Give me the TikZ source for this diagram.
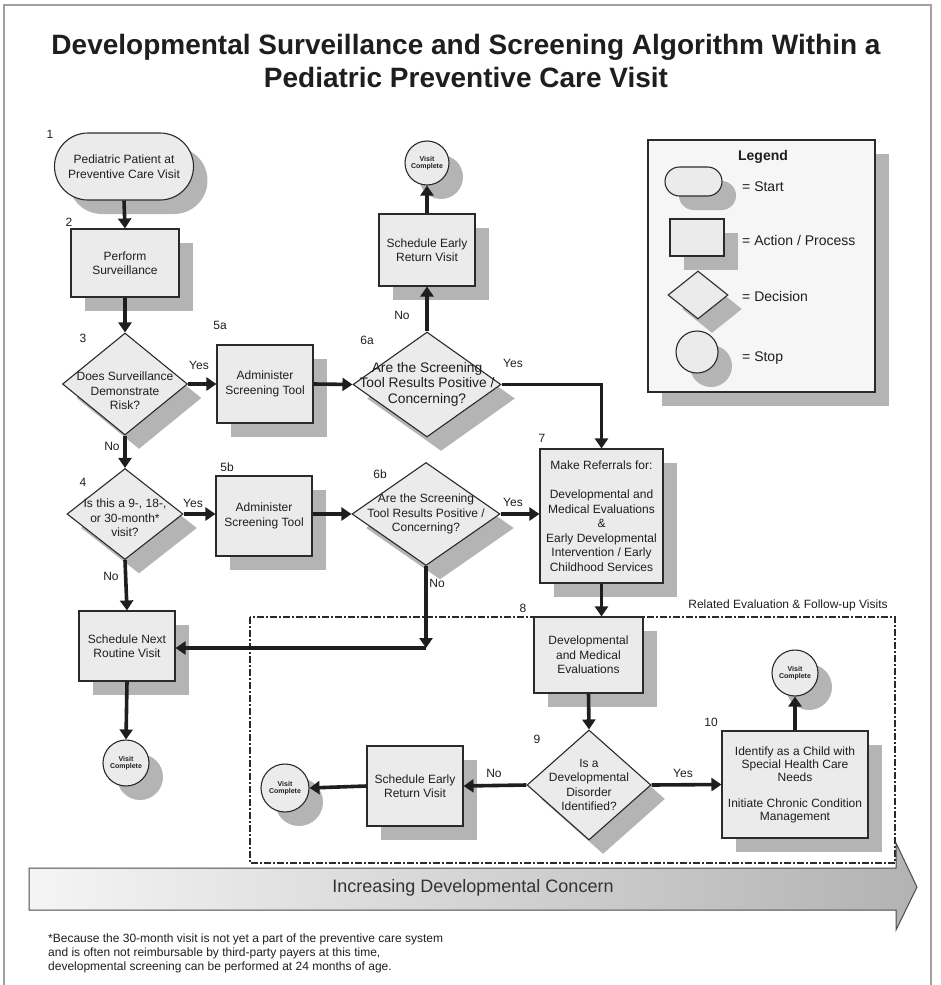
\documentclass[tikz,border=0pt]{standalone}
\usepackage{fontspec}
\setmainfont{Liberation Sans}
\usetikzlibrary{shapes.geometric,shapes.misc,shadows,arrows.meta}
\definecolor{nodefill}{HTML}{EBEBEB}
\definecolor{shadowgray}{HTML}{B4B4B4}
\definecolor{framegray}{HTML}{A0A0A0}
\definecolor{legendfill}{HTML}{F6F6F6}
\definecolor{edgegray}{HTML}{2A2A2A}
\definecolor{inkgray}{HTML}{1E1E1E}

\begin{document}
\begin{tikzpicture}[x=1pt,y=-1pt,
  shapebase/.style={draw=edgegray, line width=1.1pt, fill=nodefill,
    drop shadow={shadow xshift=14pt, shadow yshift=-14pt, fill=shadowgray, opacity=1}},
  txt/.style={font=\fontsize{12}{14.5}\selectfont, align=center, inner sep=0pt, text=inkgray},
  startbox/.style={shapebase, rounded rectangle, inner sep=2pt, align=center,
    font=\fontsize{12}{14.5}\selectfont, text=inkgray},
  actbox/.style={shapebase, rectangle, inner sep=2pt, align=center,
    font=\fontsize{12}{14.5}\selectfont, text=inkgray},
  decbox/.style={shapebase, diamond, inner sep=0pt},
  stopbox/.style={shapebase, circle, inner sep=1pt, minimum size=46pt, align=center,
    font=\fontsize{7}{7.5}\selectfont\bfseries, text=inkgray},
  flow/.style={line width=3.6pt, inkgray, -{Triangle[length=10pt,width=13pt]}},
  lbl/.style={font=\fontsize{12}{14}\selectfont, inner sep=0pt, text=inkgray},
  legtxt/.style={font=\fontsize{14}{16}\selectfont, inner sep=0pt, anchor=base west, text=inkgray},
]
\useasboundingbox (0,0) rectangle (940,985);

% outer frame
\draw[framegray, line width=2pt] (4,985) -- (4,5) -- (931,5) -- (931,985);

% title
\node[anchor=base, font=\fontsize{28}{33}\selectfont\bfseries, text=inkgray] (title1) at (466,54)
  {Developmental Surveillance and Screening Algorithm Within a};
\node[anchor=base, font=\fontsize{28}{33}\selectfont\bfseries, text=inkgray] (title2) at (466,87)
  {Pediatric Preventive Care Visit};

% follow-up region
\draw[edgegray, line width=1.1pt, dash pattern=on 7pt off 2pt on 2pt off 2pt]
  (250,617) rectangle (895,863);
\node[lbl] (relt) at (788,605) {Related Evaluation \& Follow-up Visits};

% concern arrow
\shadedraw[left color=gray!8, right color=gray!60, draw=edgegray!85, line width=1pt]
  (29,868) -- (896,868) -- (896,843) -- (917,887) -- (896,930) -- (896,910) -- (29,910) -- cycle;
\node[font=\fontsize{18}{20}\selectfont, text=black!80] (concern) at (473,888)
  {Increasing Developmental Concern};

% footnote
\node[lbl, anchor=base west] (fn1) at (48,942)
  {*Because the 30-month visit is not yet a part of the preventive care system};
\node[lbl, anchor=base west] (fn2) at (48,956)
  {and is often not reimbursable by third-party payers at this time,};
\node[lbl, anchor=base west] (fn3) at (48,970)
  {developmental screening can be performed at 24 months of age.};

% legend
\node[shapebase, fill=legendfill, minimum width=227pt, minimum height=252pt] (legend) at (761.5,266) {};
\node[font=\fontsize{14}{16}\selectfont\bfseries, text=inkgray] (legendt) at (763,157) {Legend};
\node[startbox, minimum width=61pt, minimum height=29pt] (lgstart) at (693.5,181.5) {};
\node[actbox, minimum width=54pt, minimum height=37pt] (lgact) at (697,237.5) {};
\node[decbox, minimum width=60pt, minimum height=48pt] (lgdec) at (698,295) {};
\node[stopbox, minimum size=42pt] (lgstop) at (697,352) {};
\node[legtxt] (lgstartt) at (742,191) {= Start};
\node[legtxt] (lgactt) at (742,245) {= Action / Process};
\node[legtxt] (lgdect) at (742,301) {= Decision};
\node[legtxt] (lgstopt) at (742,361) {= Stop};

% main column
\node[startbox, minimum width=143pt, minimum height=67pt] (n1) at (124,166.5)
  {Pediatric Patient at\\Preventive Care Visit};
\node[actbox, minimum width=108pt, minimum height=68pt] (n2) at (125,263) {Perform\\Surveillance};
\node[decbox, minimum width=125pt, minimum height=102pt] (d3) at (125,384) {};
\node[txt] (d3t) at (125,391) {Does Surveillance\\Demonstrate\\Risk?};
\node[decbox, minimum width=116pt, minimum height=91pt] (d4) at (125,514) {};
\node[txt] (d4t) at (125,518) {Is this a 9-, 18-,\\or 30-month*\\visit?};
\node[actbox, minimum width=96pt, minimum height=70pt] (routine) at (127,646) {Schedule Next\\Routine Visit};
\node[stopbox] (vc1) at (126,763) {Visit\\Complete};

% screening column
\node[actbox, minimum width=96pt, minimum height=78pt] (n5a) at (265,384) {Administer\\Screening Tool};
\node[actbox, minimum width=96pt, minimum height=80pt] (n5b) at (264,516) {Administer\\Screening Tool};
\node[decbox, minimum width=148pt, minimum height=105pt] (d6a) at (427,384.5) {};
\node[txt, font=\fontsize{13.8}{15.5}\selectfont] (d6at) at (427,384)
  {Are the Screening\\Tool Results Positive /\\Concerning?};
\node[decbox, minimum width=148pt, minimum height=103pt] (d6b) at (426,514) {};
\node[txt] (d6bt) at (426,514) {Are the Screening\\Tool Results Positive /\\Concerning?};
\node[actbox, minimum width=96pt, minimum height=72pt] (ser1) at (427,250) {Schedule Early\\Return Visit};
\node[stopbox, minimum size=44pt] (vc2) at (427,163) {Visit\\Complete};

% referral and evaluation
\node[actbox, minimum width=123pt, minimum height=134pt] (n7) at (601.5,516)
  {Make Referrals for:\\[14.5pt]Developmental and\\Medical Evaluations\\\&\\Early Developmental\\Intervention / Early\\Childhood Services};
\node[actbox, minimum width=109pt, minimum height=76pt] (n8) at (588.5,655)
  {Developmental\\and Medical\\Evaluations};
\node[decbox, minimum width=124pt, minimum height=110pt] (d9) at (589,785) {};
\node[txt] (d9t) at (589,785) {Is a\\Developmental\\Disorder\\Identified?};
\node[actbox, minimum width=96pt, minimum height=80pt] (ser2) at (415,786) {Schedule Early\\Return Visit};
\node[stopbox, minimum size=48pt] (vc3) at (285,788) {Visit\\Complete};
\node[actbox, minimum width=146pt, minimum height=107pt, font=\fontsize{12}{13}\selectfont] (n10) at (795,784.5)
  {Identify as a Child with\\Special Health Care\\Needs\\[13pt]Initiate Chronic Condition\\Management};
\node[stopbox] (vc4) at (795,673) {Visit\\Complete};

% step numbers
\node[lbl] (s1) at (50,134) {1};
\node[lbl] (s2) at (69,222) {2};
\node[lbl] (s3) at (83,338) {3};
\node[lbl] (s4) at (83,482) {4};
\node[lbl] (s5a) at (220,325) {5a};
\node[lbl] (s5b) at (227,467) {5b};
\node[lbl] (s6a) at (367,340) {6a};
\node[lbl] (s6b) at (380,474) {6b};
\node[lbl] (s7) at (542,438) {7};
\node[lbl] (s8) at (523,608) {8};
\node[lbl] (s9) at (537,739) {9};
\node[lbl] (s10) at (711,722) {10};

% connectors
\draw[flow] (n1.south) -- (n2.north);
\draw[flow] (n2.south) -- (d3.north);
\draw[flow] (d3.east) -- (n5a.west);
\draw[flow] (d3.south) -- (d4.north);
\draw[flow] (d4.east) -- (n5b.west |- d4.east);
\draw[flow] (d4.south) -- (routine.north);
\draw[flow] (routine.south) -- (vc1.north);
\draw[flow] (n5a.east) -- (d6a.west);
\draw[flow] (n5b.east |- d6b.west) -- (d6b.west);
\draw[flow] (d6a.north) -- (ser1.south);
\draw[flow] (ser1.north) -- (vc2.south);
\draw[flow] (d6a.east) -| (n7.north);
\draw[flow] (d6b.east) -- (d6b.east -| n7.west);
\coordinate (join) at (d6b.south |- 0,648);
\draw[flow] (d6b.south) -- (join);
\draw[flow] (join) -- (routine.east |- join);
\draw[flow] (n7.south) -- (n7.south |- n8.north);
\draw[flow] (n8.south) -- (d9.north);
\draw[flow] (d9.west) -- (ser2.east);
\draw[flow] (ser2.west) -- (vc3.east);
\draw[flow] (d9.east) -- (n10.west);
\draw[flow] (n10.north) -- (vc4.south);

% branch labels
\node[lbl] (y3) at (199,365) {Yes};
\node[lbl] (no3) at (112,446) {No};
\node[lbl] (y4) at (193,503) {Yes};
\node[lbl] (no4) at (111,576) {No};
\node[lbl] (no6a) at (402,315) {No};
\node[lbl] (y6a) at (513,363) {Yes};
\node[lbl] (y6b) at (513,502) {Yes};
\node[lbl] (no6b) at (437,583) {No};
\node[lbl] (no9) at (494,773) {No};
\node[lbl] (y9) at (683,773) {Yes};
\end{tikzpicture}
\end{document}
